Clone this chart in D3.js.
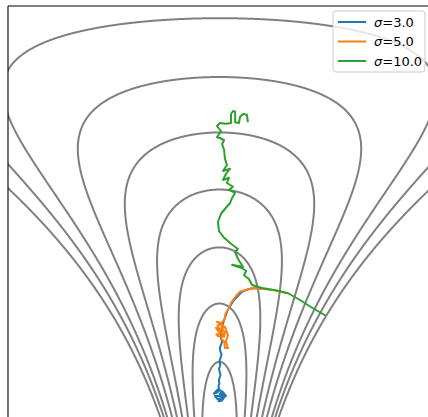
<!DOCTYPE html>
<html><head><meta charset="utf-8">
<script src="https://cdn.jsdelivr.net/npm/d3@7"></script>
<style>body{margin:0;background:#fff;overflow:hidden}</style>
</head><body>
<svg id="chart" width="428" height="417"></svg>
<script>
// ---- data ----
const xDomain = [-8.26, 8.26];
const vDomain = [-1, 5];
const funnelScale = 4;               // std of v in the funnel density
const levels = [-4.1, -3.6, -3.15, -2.54, -2.0, -1.48, -0.99, -0.55, -0.13];
const seriesNames = ["3.0", "5.0", "10.0"];
const seriesColors = ["#1f77b4", "#ff7f0e", "#2ca02c"];

const blueX = [1.66,1.40,1.19,1.02,0.88,0.76,0.68,0.57,0.49,0.42,0.37,0.31,0.29,0.24,0.21,0.17,0.14,0.09,0.10,0.05,0.06,0.10,0.06,0.01,0.04,0.08,0.04,0.0,0.03,-0.02,0.01,0.04,0.0,-0.03,0.0,-0.04,-0.02,-0.12,-0.22,-0.08,0.02,0.14,0.02,-0.18,-0.08,0.06,0.2,0.1,-0.04,0.18,0.26,0.12,-0.02];
const blueV = [1.23,1.24,1.23,1.21,1.19,1.15,1.12,1.08,1.04,1.0,0.97,0.94,0.92,0.87,0.84,0.80,0.77,0.72,0.68,0.63,0.57,0.53,0.48,0.44,0.39,0.35,0.31,0.26,0.21,0.16,0.12,0.08,0.04,0.0,-0.03,-0.07,-0.10,-0.13,-0.17,-0.15,-0.12,-0.16,-0.2,-0.2,-0.24,-0.23,-0.21,-0.26,-0.27,-0.18,-0.2,-0.14,-0.18];

const orangeX = [2.64,2.17,1.66,1.39,1.19,1.0,0.80,0.64,0.53,0.45,0.37,0.25,0.18,0.06,-0.10,0.14,-0.02,-0.14,-0.04,0.10,-0.12,-0.06,0.18,0.21,0.08,0.22,0.33,0.25,0.33,0.21,0.18,0.06,0.14,0.02,-0.08,0.10,0.21];
const orangeV = [1.17,1.21,1.23,1.24,1.23,1.21,1.19,1.13,1.08,1.04,0.97,0.91,0.81,0.77,0.79,0.73,0.68,0.71,0.66,0.64,0.62,0.60,0.59,0.65,0.70,0.72,0.61,0.53,0.44,0.44,0.53,0.56,0.63,0.67,0.74,0.76,0.71];

const greenX = [4.16,3.65,3.14,2.68,2.17,1.66,1.27,1.15,0.96,1.04,0.84,0.49,0.92,0.72,0.61,0.72,0.45,0.18,-0.02,-0.06,0.06,0.25,0.41,0.49,0.61,0.37,0.53,0.29,0.37,0.14,0.25,0.41,0.14,0.29,0.21,0.18,0.10,0.18,0.02,-0.10,0.06,-0.10,0.02,0.25,0.45,0.45,0.53,0.61,0.61,0.76,0.80,0.92,1.07,1.11];
const greenV = [0.87,0.97,1.08,1.17,1.21,1.24,1.28,1.36,1.41,1.47,1.51,1.55,1.52,1.63,1.72,1.76,1.83,1.91,2.0,2.12,2.23,2.31,2.37,2.44,2.51,2.55,2.59,2.64,2.71,2.68,2.76,2.83,2.8,2.88,2.97,3.08,3.16,3.21,3.24,3.25,3.33,3.4,3.44,3.43,3.44,3.56,3.6,3.59,3.45,3.44,3.52,3.56,3.55,3.45];

// ---- layout ----
const axLeft = 8, axRight = 431, axTop = 6, axBottom = 456;
const svg = d3.select("#chart");
const xs = d3.scaleLinear().domain(xDomain).range([axLeft, axRight]);
const ys = d3.scaleLinear().domain(vDomain).range([axBottom, axTop]);

svg.append("defs").append("clipPath").attr("id","clip")
  .append("rect").attr("x",axLeft).attr("y",axTop).attr("width",axRight-axLeft).attr("height",axBottom-axTop);

const plot = svg.append("g").attr("clip-path","url(#clip)");

// ---- funnel log density on grid ----
function logDensity(x, v) {
  return -v*v/(2*funnelScale*funnelScale) - v/2 - x*x/(2*Math.exp(v));
}
const gx0 = -11, gx1 = 11, gv0 = -2, gv1 = 7.5;
const nx = 1100, ny = 760;
const dgx = (gx1-gx0)/(nx-1), dgv = (gv1-gv0)/(ny-1);
const values = new Float64Array(nx*ny);
for (let j=0;j<ny;j++) for (let i=0;i<nx;i++) values[j*nx+i] = logDensity(gx0+i*dgx, gv0+j*dgv);

const contours = d3.contours().size([nx,ny]).thresholds(levels)(values);
const proj = d3.geoTransform({point(px,py){
  this.stream.point(xs(gx0+(px-0.5)*dgx), ys(gv0+(py-0.5)*dgv));
}});
const path = d3.geoPath(proj);
plot.selectAll("path.contour").data(contours).join("path")
  .attr("class","contour").attr("d",path)
  .attr("fill","none").attr("stroke","#808080").attr("stroke-width",2);

// ---- trajectories ----
const series = [
  {x: blueX, v: blueV},
  {x: orangeX, v: orangeV},
  {x: greenX, v: greenV}
];
const line = d3.line().x(d=>xs(d[0])).y(d=>ys(d[1]));
series.forEach((s,k)=>{
  const pts = s.x.map((x,i)=>[x, s.v[i]]);
  plot.append("path").attr("d",line(pts)).attr("fill","none")
    .attr("stroke",seriesColors[k]).attr("stroke-width",2)
    .attr("stroke-linejoin","round").attr("stroke-linecap","butt");
});

// ---- spines ----
svg.append("line").attr("x1",axLeft).attr("x2",axLeft).attr("y1",axTop).attr("y2",axBottom)
  .attr("stroke","#000").attr("stroke-width",1.1);
svg.append("line").attr("x1",axLeft).attr("x2",axRight).attr("y1",axTop).attr("y2",axTop)
  .attr("stroke","#000").attr("stroke-width",1.1);

// ---- legend ----
const lg = svg.append("g");
lg.append("rect").attr("x",333).attr("y",11).attr("width",92).attr("height",61).attr("rx",3)
  .attr("fill","#fff").attr("fill-opacity",0.8).attr("stroke","#cccccc").attr("stroke-width",1);
seriesNames.forEach((name,k)=>{
  const yy = 22 + k*19.5;
  lg.append("line").attr("x1",338).attr("x2",366).attr("y1",yy).attr("y2",yy)
    .attr("stroke",seriesColors[k]).attr("stroke-width",2);
  const t = lg.append("text").attr("x",374).attr("y",yy+4.5)
    .attr("font-family","DejaVu Sans").attr("font-size",13).attr("fill","#000");
  t.append("tspan").attr("font-style","italic").text("σ");
  t.append("tspan").text("=" + name);
});
</script>
</body></html>
